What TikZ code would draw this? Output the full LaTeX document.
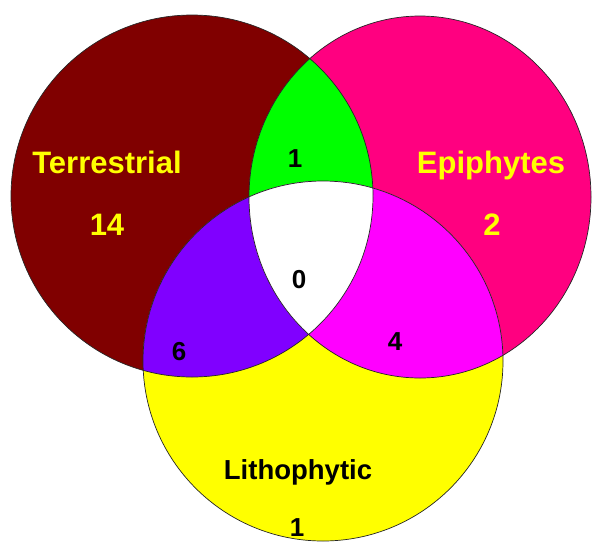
\documentclass[tikz,border=0pt]{standalone}
\usepackage{fontspec}
\setmainfont{Liberation Sans}

\definecolor{terrred}{RGB}{128,0,0}
\definecolor{epipink}{RGB}{255,0,128}
\definecolor{lithoyellow}{RGB}{255,255,0}
\definecolor{tegreen}{RGB}{0,255,0}
\definecolor{tlpurple}{RGB}{128,0,255}
\definecolor{elmagenta}{RGB}{255,0,255}

\begin{document}
\begin{tikzpicture}[x=1pt,y=-1pt,
    setname/.style={inner sep=0pt,anchor=base,font=\bfseries\fontsize{31}{31}\selectfont},
    setcount/.style={inner sep=0pt,anchor=base,font=\bfseries\fontsize{26}{26}\selectfont},
    rim/.style={draw=black!85,line width=0.7pt}]
    \useasboundingbox (0,0) rectangle (593,542);

    \coordinate (terr) at (192,196);
    \coordinate (epi) at (420,197);
    \coordinate (litho) at (323,361);

    % the three sets
    \fill[terrred] (terr) circle[radius=181pt];
    \fill[epipink] (epi) ellipse[x radius=171pt, y radius=181pt];
    \fill[lithoyellow] (litho) circle[radius=180pt];

    % overlaps
    \begin{scope}
        \clip (terr) circle[radius=181pt];
        \fill[tegreen] (epi) ellipse[x radius=171pt, y radius=181pt];
        \fill[tlpurple] (litho) circle[radius=180pt];
    \end{scope}
    \begin{scope}
        \clip (epi) ellipse[x radius=171pt, y radius=181pt];
        \fill[elmagenta] (litho) circle[radius=180pt];
    \end{scope}
    \begin{scope}
        \clip (terr) circle[radius=181pt];
        \clip (epi) ellipse[x radius=171pt, y radius=181pt];
        \fill[white] (litho) circle[radius=180pt];
    \end{scope}

    \draw[rim] (terr) circle[radius=181pt];
    \draw[rim] (epi) ellipse[x radius=171pt, y radius=181pt];
    \draw[rim] (litho) circle[radius=180pt];

    % labels
    \node[setname,text=lithoyellow] (terrname) at (107,173) {Terrestrial};
    \node[setname,text=lithoyellow] (terrnum) at (107,235) {14};
    \node[setname,text=lithoyellow] (epiname) at (491,173) {Epiphytes};
    \node[setname,text=lithoyellow] (epinum) at (492,235) {2};
    \node[setcount,font=\bfseries\fontsize{27.5}{27.5}\selectfont] (lithoname) at (298,479) {Lithophytic};
    \node[setcount] (lithonum) at (297,536) {1};

    \node[setcount] (tenum) at (295,167) {1};
    \node[setcount] (allnum) at (299,288) {0};
    \node[setcount] (tlnum) at (179,360) {6};
    \node[setcount] (elnum) at (395,350) {4};
\end{tikzpicture}
\end{document}
